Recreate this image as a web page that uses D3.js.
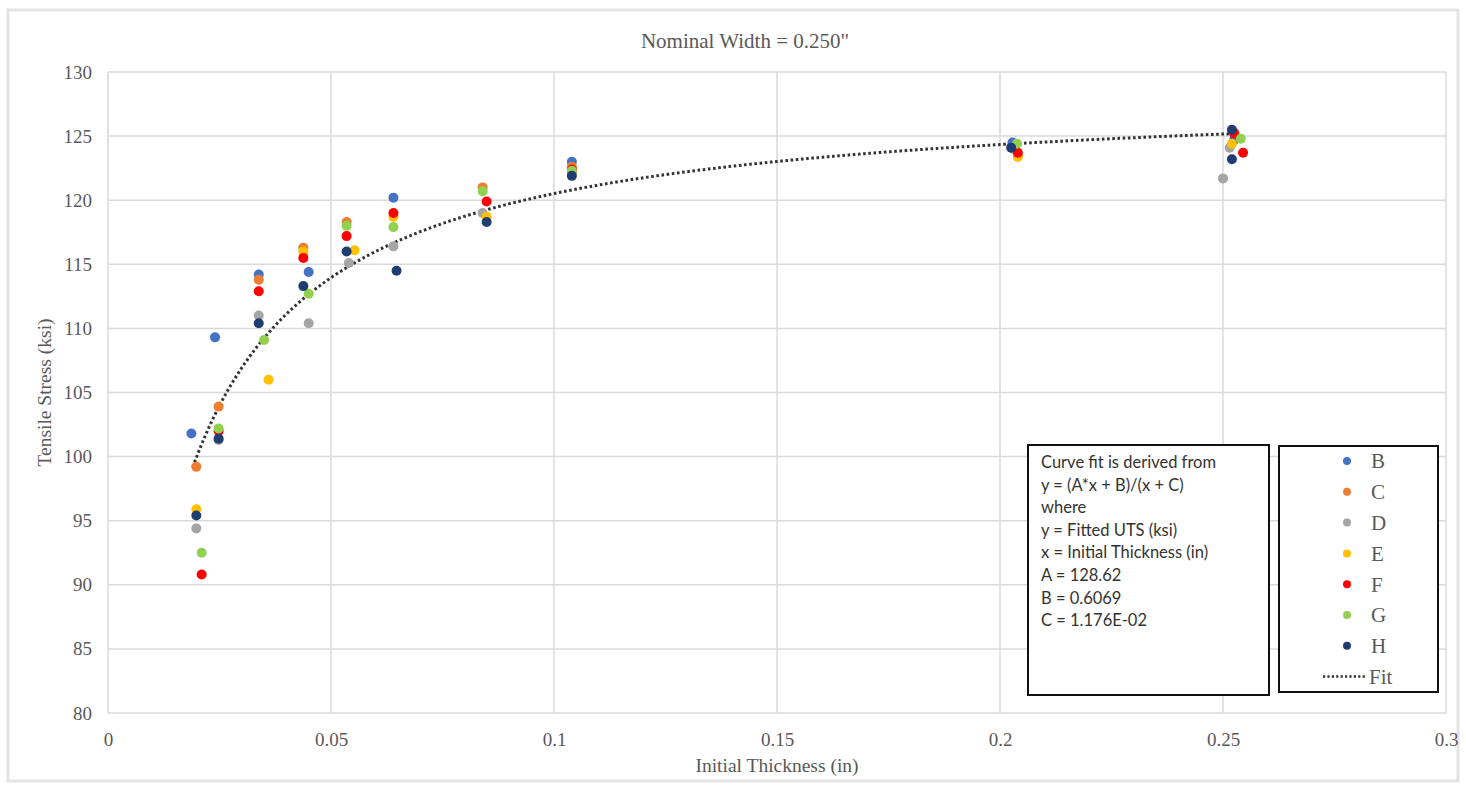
<!DOCTYPE html>
<html>
<head>
<meta charset="utf-8">
<script src="https://cdn.jsdelivr.net/npm/d3@7"></script>
<style>
  body { margin: 0; background: #fff; }
  svg { display: block; }
</style>
</head>
<body>
<div id="chart"></div>
<script>
// series values: [thickness (in), tensile stress (ksi)]
const seriesNames = ["B", "C", "D", "E", "F", "G", "H"];
const seriesColors = ["#4472c4", "#ed7d31", "#a5a5a5", "#ffc000", "#ff0000", "#92d050", "#203d72"];

const B = [[0.0187, 101.8], [0.024, 109.3], [0.0338, 114.2], [0.045, 114.4], [0.064, 120.2], [0.104, 123.0], [0.2028, 124.5], [0.2525, 124.7]];
const C = [[0.0198, 99.2], [0.0248, 103.9], [0.0338, 113.8], [0.0438, 116.3], [0.0535, 118.3], [0.084, 121.0], [0.104, 122.6], [0.204, 123.4], [0.2525, 125.3]];
const D = [[0.0198, 94.4], [0.0248, 101.3], [0.0338, 111.0], [0.045, 110.4], [0.054, 115.1], [0.064, 116.4], [0.084, 119.0], [0.104, 122.1], [0.203, 124.0], [0.2515, 124.1], [0.25, 121.7]];
const E = [[0.0198, 95.9], [0.036, 106.0], [0.0438, 116.0], [0.0553, 116.1], [0.064, 118.7], [0.0849, 118.7], [0.104, 122.2], [0.204, 123.4], [0.252, 124.4]];
const F = [[0.021, 90.8], [0.0248, 102.0], [0.0338, 112.9], [0.0438, 115.5], [0.0535, 117.2], [0.064, 119.0], [0.0849, 119.9], [0.104, 122.4], [0.204, 123.7], [0.2525, 125.2], [0.2545, 123.7]];
const G = [[0.021, 92.5], [0.0248, 102.2], [0.035, 109.1], [0.045, 112.7], [0.0535, 118.0], [0.064, 117.9], [0.084, 120.7], [0.104, 122.3], [0.2038, 124.4], [0.254, 124.8]];
const H = [[0.0198, 95.4], [0.0248, 101.4], [0.0338, 110.4], [0.0438, 113.3], [0.0535, 116.0], [0.0647, 114.5], [0.0849, 118.3], [0.104, 121.9], [0.2025, 124.1], [0.252, 125.5], [0.252, 123.2]];
const seriesData = [B, C, D, E, F, G, H];

// fit constants printed in the text box
const fitA = 128.62, fitB = 0.6069, fitC = 1.176e-2;
const fitRange = [0.019, 0.2525];

const xTicks = [0, 0.05, 0.1, 0.15, 0.2, 0.25, 0.3];
const yTicks = [80, 85, 90, 95, 100, 105, 110, 115, 120, 125, 130];

const noteLines = [
  "Curve fit is derived from",
  "y = (A*x + B)/(x + C)",
  "where",
  "y = Fitted UTS (ksi)",
  "x = Initial Thickness (in)",
  "A = 128.62",
  "B = 0.6069",
  "C = 1.176E-02"
];

const width = 1466, height = 789;
const margin = { top: 72, right: 20, bottom: 76, left: 108 };
const innerWidth = 1446 - margin.left;
const innerHeight = 713 - margin.top;

const svg = d3.select("#chart").append("svg")
  .attr("width", width).attr("height", height);

// outer chart frame
svg.append("rect")
  .attr("x", 8).attr("y", 10).attr("width", 1450).attr("height", 771)
  .attr("fill", "#fff").attr("stroke", "#e3e3e3").attr("stroke-width", 3);

const serif = "'Liberation Serif', 'DejaVu Serif', serif";
const textGray = "#595959";

svg.append("text")
  .attr("x", 745).attr("y", 48)
  .attr("text-anchor", "middle")
  .attr("font-family", serif).attr("font-size", 21).attr("fill", textGray)
  .text("Nominal Width = 0.250\"");

const g = svg.append("g").attr("transform", `translate(${margin.left},${margin.top})`);

const x = d3.scaleLinear().domain([0, 0.3]).range([0, innerWidth]);
const y = d3.scaleLinear().domain([80, 130]).range([innerHeight, 0]);

// gridlines
g.append("g").selectAll("line").data(yTicks).join("line")
  .attr("x1", 0).attr("x2", innerWidth)
  .attr("y1", d => y(d)).attr("y2", d => y(d))
  .attr("stroke", "#dadada").attr("stroke-width", 1.5);
g.append("g").selectAll("line").data(xTicks).join("line")
  .attr("y1", 0).attr("y2", innerHeight)
  .attr("x1", d => x(d)).attr("x2", d => x(d))
  .attr("stroke", "#dadada").attr("stroke-width", 1.5);

// axes (labels only, lines come from the grid)
const xAxis = g.append("g").attr("transform", `translate(0,${innerHeight})`)
  .call(d3.axisBottom(x).tickValues(xTicks).tickSize(0).tickPadding(20).tickFormat(d => String(d)));
const yAxis = g.append("g")
  .call(d3.axisLeft(y).tickValues(yTicks).tickSize(0).tickPadding(16).tickFormat(d => String(d)));
[xAxis, yAxis].forEach(a => {
  a.attr("font-family", serif).attr("font-size", 19).attr("fill", null);
  a.select(".domain").remove();
  a.selectAll(".tick line").remove();
});
xAxis.selectAll("text")
  .attr("text-anchor", "middle").attr("dy", 13)
  .attr("fill", textGray);
yAxis.selectAll("text")
  .attr("text-anchor", "end").attr("dy", 6)
  .attr("fill", textGray);

svg.append("text")
  .attr("x", margin.left + innerWidth / 2).attr("y", 772)
  .attr("text-anchor", "middle")
  .attr("font-family", serif).attr("font-size", 19.5).attr("fill", textGray)
  .text("Initial Thickness (in)");

svg.append("text")
  .attr("transform", `translate(51,${margin.top + innerHeight / 2}) rotate(-90)`)
  .attr("text-anchor", "middle")
  .attr("font-family", serif).attr("font-size", 19.5).attr("fill", textGray)
  .text("Tensile Stress (ksi)");

// fit curve
const fitPts = d3.range(0, 201).map(i => {
  const t = fitRange[0] + (fitRange[1] - fitRange[0]) * i / 200;
  return [t, (fitA * t + fitB) / (t + fitC)];
});
g.append("path")
  .attr("d", d3.line().x(d => x(d[0])).y(d => y(d[1]))(fitPts))
  .attr("fill", "none").attr("stroke", "#333")
  .attr("stroke-width", 3).attr("stroke-dasharray", "2.6,2.6");

// scatter points, B first and H on top
seriesData.forEach((pts, i) => {
  g.append("g").selectAll("circle").data(pts).join("circle")
    .attr("cx", d => x(d[0])).attr("cy", d => y(d[1]))
    .attr("r", 5)
    .attr("fill", seriesColors[i]);
});

// text box
const note = svg.append("g");
note.append("rect")
  .attr("x", 1028).attr("y", 445).attr("width", 241).attr("height", 250)
  .attr("fill", "#fff").attr("stroke", "#111").attr("stroke-width", 2);
note.selectAll("text").data(noteLines).join("text")
  .attr("x", 1041).attr("y", (d, i) => 468 + i * 22.6)
  .attr("font-family", "Lato, 'Liberation Sans', sans-serif")
  .attr("font-size", 16.5).attr("fill", "#333")
  .text(d => d);

// legend
const legend = svg.append("g");
legend.append("rect")
  .attr("x", 1279).attr("y", 446).attr("width", 159).attr("height", 246)
  .attr("fill", "#fff").attr("stroke", "#111").attr("stroke-width", 2);
const rows = legend.selectAll("g.row").data(seriesNames).join("g")
  .attr("class", "row")
  .attr("transform", (d, i) => `translate(1347,${461 + i * 30.8})`);
rows.append("circle").attr("r", 4).attr("fill", (d, i) => seriesColors[i]);
rows.append("text")
  .attr("x", 24).attr("dy", "0.35em")
  .attr("font-family", serif).attr("font-size", 21).attr("fill", textGray)
  .text(d => d);
const fitRow = legend.append("g").attr("transform", `translate(1347,${461 + 7 * 30.8})`);
fitRow.append("line")
  .attr("x1", -24).attr("x2", 18)
  .attr("stroke", "#333").attr("stroke-width", 2.5).attr("stroke-dasharray", "2.2,2.2");
fitRow.append("text")
  .attr("x", 22).attr("dy", "0.35em")
  .attr("font-family", serif).attr("font-size", 21).attr("fill", textGray)
  .text("Fit");
</script>
</body>
</html>
